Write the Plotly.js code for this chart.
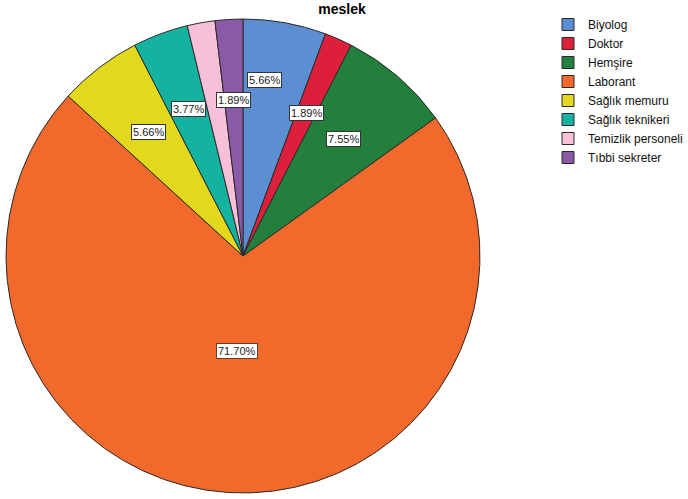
<!DOCTYPE html>
<html>
<head>
<meta charset="utf-8">
<script src="https://cdn.plot.ly/plotly-3.0.1.min.js"></script>
<style>html,body{margin:0;padding:0;background:#fff;}#chart{width:688px;height:499px;}</style>
</head>
<body>
<div id="chart"></div>
<script>
const categories = ["Biyolog", "Doktor", "Hemşire", "Laborant", "Sağlık memuru", "Sağlık teknikeri", "Temizlik personeli", "Tıbbi sekreter"];
const percents = [5.66, 1.89, 7.55, 71.70, 5.66, 3.77, 1.89, 1.89];
const colors = ["#5B8FD1", "#DC1F3A", "#23803C", "#F2692C", "#E2D81E", "#13B3A0", "#F7C0D8", "#8A5AA6"];
const showLabel = [true, true, true, true, true, true, false, true];

const W = 688, H = 499;
const cx = 243, cy = 256, R = 237;
const dom = {x: [(cx - R) / W, (cx + R) / W], y: [(H - cy - R) / H, (H - cy + R) / H]};
const labelRadius = [0.75, 0.66, 0.65, 0.40, 0.66, 0.66, 0.66, 0.66];
const labelShift = [-3.2, 0, 0, 0, 0, 0, 0, 0];

const total = percents.reduce((a, b) => a + b, 0);
let cum = 0;
const annotations = [];
percents.forEach((p, i) => {
  const mid = (cum + p / 2) / total * 360 + labelShift[i];
  cum += p;
  if (!showLabel[i]) return;
  const a = mid * Math.PI / 180;
  const px = cx + labelRadius[i] * R * Math.sin(a);
  const py = cy - labelRadius[i] * R * Math.cos(a);
  annotations.push({
    x: px / W, y: 1 - py / H, xref: 'paper', yref: 'paper',
    text: p.toFixed(2) + '%', showarrow: false,
    font: {family: 'Liberation Sans, Arial, sans-serif', size: 11, color: '#222'},
    bgcolor: '#ffffff', bordercolor: i === 3 ? '#6b3a20' : '#333333', borderwidth: 1, borderpad: 1,
    xanchor: 'center', yanchor: 'middle'
  });
});

const trace = {
  type: 'pie',
  labels: categories,
  values: percents,
  sort: false,
  direction: 'clockwise',
  rotation: 0,
  textinfo: 'none',
  hoverinfo: 'label+percent',
  marker: {colors: colors, line: {color: '#2a2a2a', width: 1}},
  domain: dom
};

const layout = {
  width: W, height: H,
  margin: {l: 0, r: 0, t: 0, b: 0, pad: 0, autoexpand: false},
  paper_bgcolor: '#ffffff',
  font: {family: 'Liberation Sans, Arial, sans-serif', color: '#111'},
  title: {text: '<b>meslek</b>', x: 342 / W, y: 1 - 9 / H, xanchor: 'center', yanchor: 'middle', xref: 'paper', yref: 'container',
          font: {family: 'Liberation Sans, Arial, sans-serif', size: 14, color: '#000'}},
  showlegend: true,
  legend: {x: 548 / W, y: 1 - 10 / H, xanchor: 'left', yanchor: 'top', font: {size: 12, color: '#111'},
           itemwidth: 30, tracegroupgap: 0, bgcolor: 'rgba(0,0,0,0)', traceorder: 'normal'},
  annotations: annotations
};

Plotly.newPlot('chart', [trace], layout, {displayModeBar: false, staticPlot: true});
</script>
</body>
</html>
